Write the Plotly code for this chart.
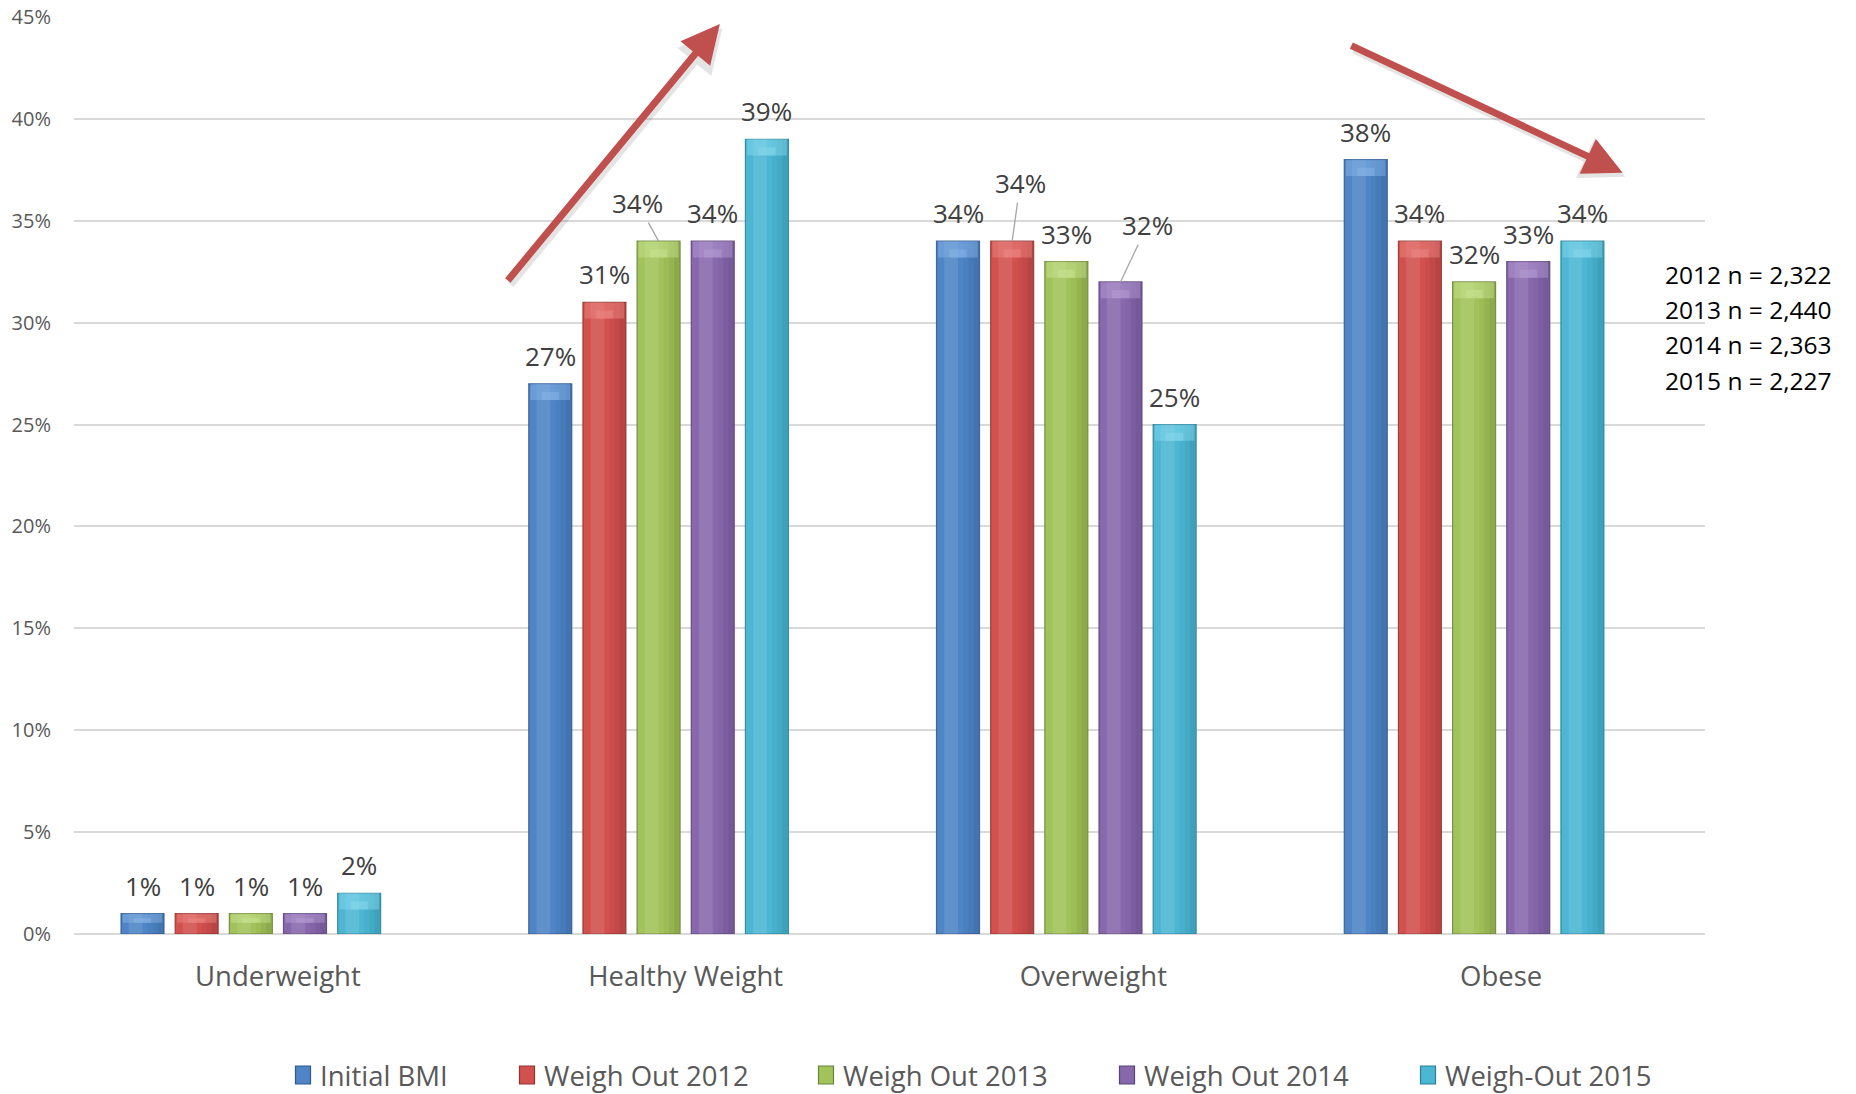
import plotly.graph_objects as go

# ---- data -------------------------------------------------------------
categories = ["Underweight", "Healthy Weight", "Overweight", "Obese"]
series_names = ["Initial BMI", "Weigh Out 2012", "Weigh Out 2013",
                "Weigh Out 2014", "Weigh-Out 2015"]
initial_bmi = [1, 27, 34, 38]
weigh_out_2012 = [1, 31, 34, 34]
weigh_out_2013 = [1, 34, 33, 32]
weigh_out_2014 = [1, 34, 32, 33]
weigh_out_2015 = [2, 39, 25, 34]
sample_sizes = ["2012 n = 2,322", "2013 n = 2,440",
                "2014 n = 2,363", "2015 n = 2,227"]
y_tick_values = [0, 5, 10, 15, 20, 25, 30, 35, 40, 45]
y_tick_labels = [f"{v}%" for v in y_tick_values]

series_values = [initial_bmi, weigh_out_2012, weigh_out_2013,
                 weigh_out_2014, weigh_out_2015]

# ---- styling ----------------------------------------------------------
FONT = "Open Sans"
base_colors = ["#4F85C6", "#D2514E", "#A2C35B", "#8868AD", "#4CB6D3"]
dark_rgb = [(47, 88, 140), (140, 52, 50), (104, 131, 52), (88, 66, 118), (39, 128, 152)]
light_rgb = [(140, 185, 235), (240, 140, 135), (205, 230, 150), (185, 160, 215), (140, 220, 240)]

W, H = 1856, 1094
M_L, M_R, M_T, M_B = 74, 151, 17, 160
PLOT_W = W - M_L - M_R
PLOT_H = H - M_T - M_B

group_slots = 6            # series slots per category (last slot stays empty)
slot = 0.797 / group_slots
bar_w = slot * 0.794
cat_x = list(range(len(categories)))


def bar_left(i):
    return -0.3984 + i * slot + (slot - bar_w) / 2


def rgba(c, a):
    return "rgba(%d,%d,%d,%.2f)" % (c[0], c[1], c[2], a)


fig = go.Figure()

for i, (name, vals) in enumerate(zip(series_names, series_values)):
    off = bar_left(i)
    # main body
    fig.add_trace(go.Bar(
        x=cat_x, y=vals, name=name, offset=off, width=bar_w,
        marker=dict(color=base_colors[i], line=dict(color=rgba(dark_rgb[i], 0.85), width=1.2)),
        showlegend=False, hovertemplate=name + ": %{y}%<extra></extra>",
    ))
    # graded shading toward the right-hand edge
    for frac, alpha in [(0.62, 0.10), (0.74, 0.14), (0.86, 0.18)]:
        fig.add_trace(go.Bar(
            x=cat_x, y=vals, offset=off + frac * bar_w, width=(0.985 - frac) * bar_w,
            marker=dict(color=rgba(dark_rgb[i], alpha), line=dict(width=0)),
            showlegend=False, hoverinfo="skip",
        ))
    # soft highlight down the middle-left
    fig.add_trace(go.Bar(
        x=cat_x, y=vals, offset=off + 0.18 * bar_w, width=0.32 * bar_w,
        marker=dict(color="rgba(255,255,255,0.10)", line=dict(width=0)),
        showlegend=False, hoverinfo="skip",
    ))
    # light bevel cap on top
    caps = [min(0.8, v * 0.45) for v in vals]
    fig.add_trace(go.Bar(
        x=cat_x, y=caps, base=[v - c for v, c in zip(vals, caps)],
        offset=off + 0.04 * bar_w, width=0.92 * bar_w,
        marker=dict(color=rgba(light_rgb[i], 0.45), line=dict(width=0)),
        showlegend=False, hoverinfo="skip",
    ))
    caps2 = [c * 0.5 for c in caps]
    fig.add_trace(go.Bar(
        x=cat_x, y=caps2, base=[v - c for v, c in zip(vals, caps)],
        offset=off + 0.30 * bar_w, width=0.40 * bar_w,
        marker=dict(color=rgba(light_rgb[i], 0.45), line=dict(width=0)),
        showlegend=False, hoverinfo="skip",
    ))

annotations = []

# value labels; a few are pulled away from their bars with a leader line
leader_offsets = {(2, 1): (-21, -38), (1, 2): (8, -58), (3, 2): (27, -57)}
for i, vals in enumerate(series_values):
    for j, v in enumerate(vals):
        xc = j + bar_left(i) + bar_w / 2
        label = dict(x=xc, y=v, xref="x", yref="y", text=f"{v}%",
                     font=dict(family=FONT, size=26, color="#404040"))
        if (i, j) in leader_offsets:
            ax, ay = leader_offsets[(i, j)]
            label.update(showarrow=True, ax=ax, ay=ay, arrowhead=0,
                         arrowwidth=1.3, arrowcolor="#A6A6A6", standoff=0)
        else:
            label.update(showarrow=False, yanchor="middle", yshift=28)
        annotations.append(label)

# trend arrows
trend_arrows = [((0.561, 32.0), (1.084, 44.66)),
                ((2.629, 43.63), (3.298, 37.36))]
for (tx, ty), (hx, hy) in trend_arrows:
    annotations.append(dict(
        x=hx + 0.006, y=hy - 0.2, ax=tx + 0.006, ay=ty - 0.2,
        xref="x", yref="y", axref="x", ayref="y", text="",
        showarrow=True, arrowhead=2, arrowsize=1.1, arrowwidth=8,
        arrowcolor="rgba(0,0,0,0.10)", standoff=0,
    ))
    annotations.append(dict(
        x=hx, y=hy, ax=tx, ay=ty, xref="x", yref="y", axref="x", ayref="y",
        text="", showarrow=True, arrowhead=2, arrowsize=1.1, arrowwidth=7,
        arrowcolor="#C0504D", standoff=0,
    ))

# sample sizes at the right edge
note_top_px, note_step_px = 274.6, 35.2
for k, t in enumerate(sample_sizes):
    py = note_top_px + k * note_step_px
    annotations.append(dict(
        x=(1663 - M_L) / PLOT_W, y=(H - M_B - py) / PLOT_H, xref="paper", yref="paper",
        xanchor="left", yanchor="middle", showarrow=False, text=t,
        font=dict(family=FONT, size=24.5, color="#000000"),
    ))

# legend row along the bottom
legend_marker_px = [303, 527, 826, 1127, 1428]
legend_y_px = 1075
shapes = []
for i, name in enumerate(series_names):
    cx = legend_marker_px[i]
    x0 = (cx - 7.5 - M_L) / PLOT_W
    x1 = (cx + 7.5 - M_L) / PLOT_W
    y0 = (H - M_B - (legend_y_px + 9)) / PLOT_H
    y1 = (H - M_B - (legend_y_px - 9)) / PLOT_H
    shapes.append(dict(type="rect", xref="paper", yref="paper",
                       x0=x0, x1=x1, y0=y0, y1=y1,
                       fillcolor=base_colors[i], line=dict(color=rgba(dark_rgb[i], 1), width=1.2)))
    annotations.append(dict(
        x=(cx + 15 - M_L) / PLOT_W, y=(H - M_B - legend_y_px) / PLOT_H,
        xref="paper", yref="paper", xanchor="left", yanchor="middle",
        showarrow=False, text=name,
        font=dict(family=FONT, size=27.5, color="#595959"),
    ))

fig.update_layout(
    width=W, height=H, autosize=False,
    margin=dict(l=M_L, r=M_R, t=M_T, b=M_B, pad=0),
    paper_bgcolor="white", plot_bgcolor="white",
    barmode="overlay", showlegend=False,
    font=dict(family=FONT, color="#595959"),
    annotations=annotations, shapes=shapes,
    xaxis=dict(
        range=[-0.5, len(categories) - 0.5], tickvals=cat_x, ticktext=categories,
        showgrid=False, zeroline=False, showline=False, ticks="",
        tickfont=dict(family=FONT, size=27.5, color="#595959"),
        ticklabelstandoff=23, fixedrange=True, automargin=False,
    ),
    yaxis=dict(
        range=[0, 45], tickvals=y_tick_values, ticktext=y_tick_labels,
        showgrid=True, gridcolor="#D9D9D9", gridwidth=1.5,
        zeroline=True, zerolinecolor="#D9D9D9", zerolinewidth=1.5,
        showline=False, ticks="",
        tickfont=dict(family=FONT, size=20, color="#595959"),
        ticklabelstandoff=22, fixedrange=True, automargin=False,
    ),
)

fig.write_html("out.html")
